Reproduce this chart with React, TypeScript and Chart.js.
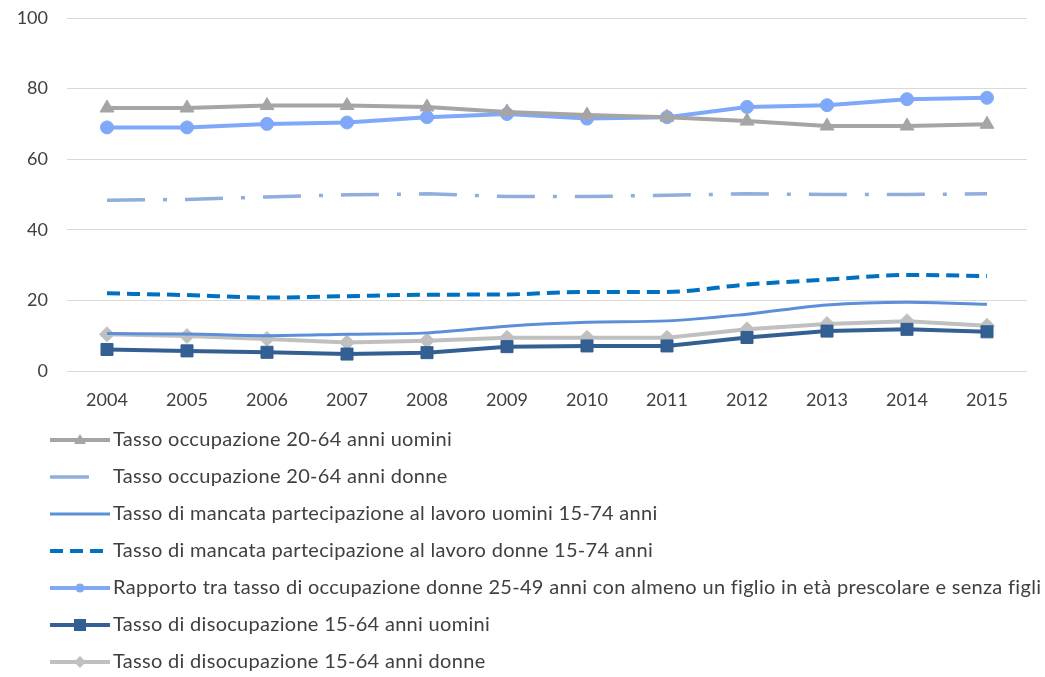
import React, { useEffect, useRef } from 'react';
import { Chart, registerables } from 'chart.js';

Chart.register(...registerables);

const years = ['2004', '2005', '2006', '2007', '2008', '2009', '2010', '2011', '2012', '2013', '2014', '2015'];
const occUomini = [74.5, 74.5, 75.2, 75.2, 74.8, 73.4, 72.5, 71.9, 70.8, 69.4, 69.4, 69.9];
const occDonne = [48.4, 48.6, 49.3, 49.9, 50.2, 49.4, 49.4, 49.8, 50.2, 50.0, 50.0, 50.2];
const mancUomini = [10.6, 10.5, 10.0, 10.4, 10.8, 12.7, 13.8, 14.2, 16.1, 18.7, 19.5, 18.9];
const mancDonne = [22.0, 21.5, 20.8, 21.2, 21.6, 21.7, 22.4, 22.4, 24.5, 25.9, 27.2, 26.9];
const rapporto = [69.0, 69.0, 70.0, 70.4, 71.9, 72.8, 71.5, 71.9, 74.8, 75.3, 77.0, 77.4];
const disUomini = [6.1, 5.7, 5.3, 4.8, 5.2, 6.9, 7.1, 7.1, 9.5, 11.3, 11.8, 11.1];
const disDonne = [10.4, 9.9, 9.1, 8.1, 8.6, 9.4, 9.4, 9.4, 11.8, 13.3, 14.1, 12.8];
const yTicks = [0, 20, 40, 60, 80, 100];

const seriesLabels = [
  'Tasso occupazione 20-64 anni uomini',
  'Tasso occupazione 20-64 anni donne',
  'Tasso di mancata partecipazione al lavoro uomini 15-74 anni',
  'Tasso di mancata partecipazione al lavoro donne 15-74 anni',
  'Rapporto tra tasso di occupazione donne 25-49 anni con almeno un figlio in età prescolare e senza figli',
  'Tasso di disocupazione 15-64 anni uomini',
  'Tasso di disocupazione 15-64 anni donne',
];
const seriesColors = ['#A5A5A5', '#8FAEDC', '#5B8FD9', '#0070C0', '#7FA8F8', '#335F93', '#C0C0C0'];

const FONT = 'Lato, "Open Sans", sans-serif';

const legendPlugin = {
  id: 'customLegend',
  afterDraw(chart: any) {
    const ctx = chart.ctx as CanvasRenderingContext2D;
    ctx.save();
    const x0 = 50;
    const x1 = 110;
    chart.data.datasets.forEach((ds: any, i: number) => {
      const y = 440 + i * 37;
      ctx.strokeStyle = ds.borderColor;
      ctx.fillStyle = ds.borderColor;
      ctx.lineWidth = ds.borderWidth;
      ctx.lineCap = 'butt';
      ctx.setLineDash(ds.legendDash || []);
      ctx.beginPath();
      ctx.moveTo(x0, y);
      ctx.lineTo(ds.legendEnd || x1, y);
      ctx.stroke();
      ctx.setLineDash([]);
      const cx = 80;
      const st = ds.pointStyle;
      if (ds.pointRadius > 0) {
        ctx.beginPath();
        if (st === 'triangle') {
          ctx.moveTo(cx, y - 6);
          ctx.lineTo(cx + 6, y + 4);
          ctx.lineTo(cx - 6, y + 4);
          ctx.closePath();
        } else if (st === 'circle') {
          ctx.arc(cx, y, 4.5, 0, Math.PI * 2);
        } else if (st === 'rect') {
          ctx.rect(cx - 6, y - 6, 12, 12);
        } else if (st === 'rectRot') {
          ctx.moveTo(cx, y - 6);
          ctx.lineTo(cx + 6, y);
          ctx.lineTo(cx, y + 6);
          ctx.lineTo(cx - 6, y);
          ctx.closePath();
        }
        ctx.fill();
      }
      ctx.fillStyle = '#404040';
      ctx.font = '20px ' + FONT;
      (ctx as any).letterSpacing = '0.3px';
      ctx.textBaseline = 'middle';
      ctx.textAlign = 'left';
      ctx.fillText(ds.label, 113, y);
    });
    ctx.restore();
  },
};

export default function App() {
  const ref = useRef<HTMLCanvasElement | null>(null);
  useEffect(() => {
    document.body.style.margin = '0';
    if (!ref.current) return;
    const mk = (i: number, data: number[], extra: any) => ({
      label: seriesLabels[i],
      data,
      borderColor: seriesColors[i],
      backgroundColor: seriesColors[i],
      pointBackgroundColor: seriesColors[i],
      pointBorderColor: seriesColors[i],
      borderWidth: 4,
      pointBorderWidth: 1,
      ...extra,
    });
    const chart = new Chart(ref.current, {
      type: 'line',
      data: {
        labels: years,
        datasets: [
          mk(0, occUomini, { pointStyle: 'triangle', pointRadius: 8 }),
          mk(1, occDonne, { pointRadius: 0, borderWidth: 3.5, borderDash: [38, 18, 4, 18], legendDash: [], legendEnd: 89 }),
          mk(2, mancUomini, { pointRadius: 0, borderWidth: 3, cubicInterpolationMode: 'monotone' }),
          mk(3, mancDonne, { pointRadius: 0, borderWidth: 4, borderDash: [13, 7], legendDash: [13, 7], cubicInterpolationMode: 'monotone' }),
          mk(4, rapporto, { pointStyle: 'circle', pointRadius: 6.5 }),
          mk(5, disUomini, { pointStyle: 'rect', pointRadius: 8.5 }),
          mk(6, disDonne, { pointStyle: 'rectRot', pointRadius: 7.5 }),
        ],
      },
      options: {
        animation: false,
        responsive: false,
        maintainAspectRatio: false,
        layout: { autoPadding: false, padding: { left: 0, right: 18, top: 18, bottom: 257 } },
        plugins: { legend: { display: false }, tooltip: { enabled: false } },
        scales: {
          x: {
            offset: true,
            grid: { display: false, drawTicks: false, offset: true },
            border: { display: false },
            ticks: { color: '#404040', font: { family: FONT, size: 18 }, padding: 18, maxRotation: 0, autoSkip: false },
            afterFit: (s: any) => { s.height = 49; s.paddingLeft = 0; s.paddingRight = 0; },
          },
          y: {
            min: 0,
            max: 100,
            afterBuildTicks: (s: any) => { s.ticks = yTicks.map((v) => ({ value: v })); },
            grid: { color: '#D9D9D9', lineWidth: 1, drawTicks: false },
            border: { display: false },
            ticks: { color: '#404040', font: { family: FONT, size: 18 }, padding: 19 },
            afterFit: (s: any) => { s.width = 67; s.paddingTop = 0; s.paddingBottom = 0; },
          },
        },
      },
      plugins: [legendPlugin],
    } as any);
    return () => chart.destroy();
  }, []);
  return (
    <div style={{ width: 1045, height: 677, background: '#fff' }}>
      <canvas ref={ref} width={1045} height={677} style={{ display: 'block' }} />
    </div>
  );
}
